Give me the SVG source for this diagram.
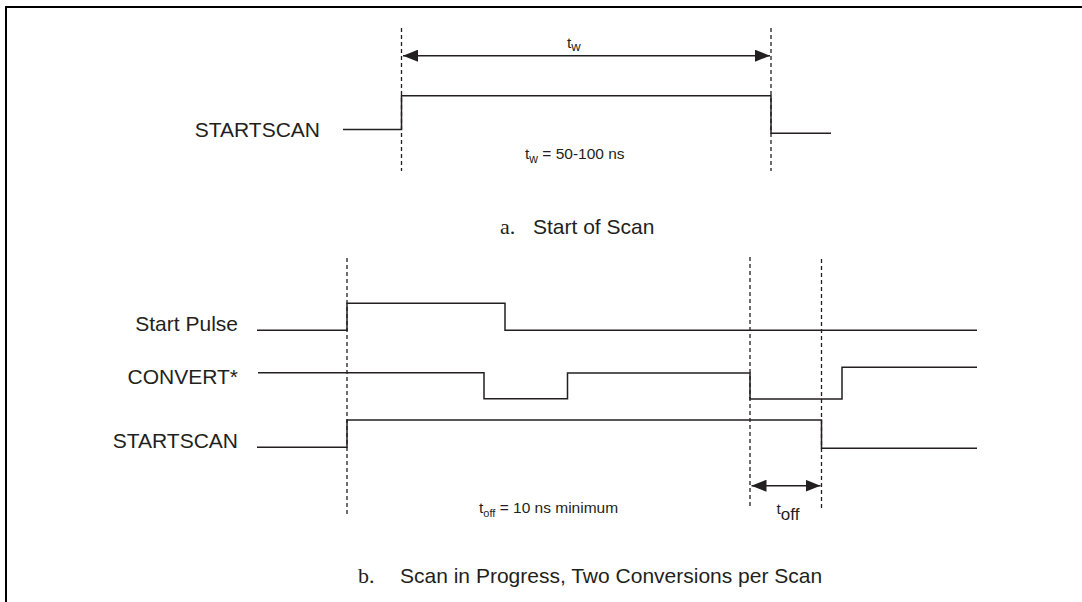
<svg xmlns="http://www.w3.org/2000/svg" width="1082" height="602" viewBox="0 0 1082 602">
<defs>
<style>
.sig{fill:none;stroke:#231f20;stroke-width:1.5}
.dash{fill:none;stroke:#231f20;stroke-width:1.3;stroke-dasharray:4 3}
.dim{fill:none;stroke:#231f20;stroke-width:1.5}
.lbl{font-family:"Liberation Sans",Arial,sans-serif;font-size:21px;fill:#231f20}
.sm{font-family:"Liberation Sans",Arial,sans-serif;font-size:15.5px;fill:#231f20}
.ser{font-family:"Liberation Serif","Times New Roman",serif;font-size:22px;fill:#231f20}
</style>
<marker id="ah" viewBox="0 0 15 12" refX="15" refY="6" markerWidth="15" markerHeight="12" markerUnits="userSpaceOnUse" orient="auto-start-reverse">
<path d="M0,0 L15,6 L0,12 Z" fill="#231f20"/>
</marker>
</defs>
<rect width="1082" height="602" fill="#fff"/>
<g id="frame">
<path d="M6,602 V7 H1082" fill="none" stroke="#000" stroke-width="2"/>
</g>

<g id="part-a">
<g id="a-dashes">
<line class="dash" x1="401.5" y1="28" x2="401.5" y2="171"/>
<line class="dash" x1="771" y1="28" x2="771" y2="171"/>
</g>
<g id="a-startscan">
<text class="lbl" x="320" y="137" text-anchor="end">STARTSCAN</text>
<path class="sig" d="M343,129.5 H401.5 V95.7 H771 V133.3 H831"/>
</g>
<g id="a-tw">
<line class="dim" x1="403" y1="55.7" x2="770" y2="55.7" marker-start="url(#ah)" marker-end="url(#ah)"/>
<text class="sm" x="567" y="48" font-size="18">t<tspan font-size="13" dy="2.5">w</tspan></text>
<text class="sm" x="525" y="159">t<tspan font-size="12" dy="4">w</tspan><tspan dy="-4"> = 50-100 ns</tspan></text>
</g>
<g id="a-caption">
<text x="500" y="233.5"><tspan class="ser">a.</tspan><tspan class="lbl" x="533">Start of Scan</tspan></text>
</g>
</g>

<g id="part-b">
<g id="b-dashes">
<line class="dash" x1="347" y1="258" x2="347" y2="517"/>
<line class="dash" x1="750" y1="257" x2="750" y2="509"/>
<line class="dash" x1="821.5" y1="259" x2="821.5" y2="511"/>
</g>
<g id="b-startpulse">
<text class="lbl" x="238" y="331" text-anchor="end">Start Pulse</text>
<path class="sig" d="M257,330.3 H347 V303.3 H505 V330.3 H977"/>
</g>
<g id="b-convert">
<text class="lbl" x="238" y="384" text-anchor="end">CONVERT*</text>
<path class="sig" d="M258,372.7 H484 V398.7 H567.5 V373 H750 V399 H842 V367.3 H977"/>
</g>
<g id="b-startscan">
<text class="lbl" x="238" y="447.5" text-anchor="end">STARTSCAN</text>
<path class="sig" d="M257,447.3 H347 V420 H821.5 V448.3 H977"/>
</g>
<g id="b-toff">
<line class="dim" x1="751.5" y1="485.7" x2="820.5" y2="485.7" marker-start="url(#ah)" marker-end="url(#ah)"/>
<text class="sm" x="776.5" y="514" font-size="15">t<tspan font-size="17" dy="6">off</tspan></text>
<text class="sm" x="479" y="513">t<tspan font-size="11" dy="4">off</tspan><tspan dy="-4"> = 10 ns minimum</tspan></text>
</g>
<g id="b-caption">
<text x="358" y="582.5"><tspan class="ser">b.</tspan><tspan class="lbl" x="400">Scan in Progress, Two Conversions per Scan</tspan></text>
</g>
</g>
</svg>
